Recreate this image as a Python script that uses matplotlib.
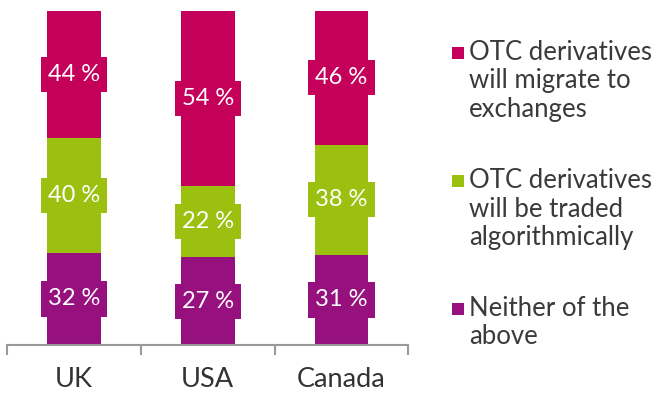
import matplotlib

matplotlib.use("Agg")
import matplotlib.pyplot as plt
import numpy as np

plt.rcParams["font.family"] = ["Lato", "DejaVu Sans"]

countries = ["UK", "USA", "Canada"]
series_names = [
    "Neither of the\nabove",
    "OTC derivatives\nwill be traded\nalgorithmically",
    "OTC derivatives\nwill migrate to\nexchanges",
]
neither = [32, 27, 31]
algorithmic = [40, 22, 38]
migrate = [44, 54, 46]
colors = ["#96117e", "#9bc010", "#c5005a"]

values = np.array([neither, algorithmic, migrate], dtype=float)
shares = values / values.sum(axis=0)  # each bar stretched to full height

fig = plt.figure(figsize=(6.56, 3.95), dpi=100)
ax = fig.add_axes([7.3 / 656, 50 / 395, 401 / 656, 334 / 395])

x = np.arange(len(countries))
bottom = np.zeros(len(countries))
for raw, share, color in zip(values, shares, colors):
    ax.bar(x, share, bottom=bottom, width=0.4, color=color, linewidth=0)
    for xi, b, s, v in zip(x, bottom, share, raw):
        ax.text(xi, b + s / 2, f"{v:.0f} %", ha="center", va="center",
                fontsize=17, color="white",
                bbox=dict(boxstyle="square,pad=0.3", fc=color, ec="none"))
    bottom += share

ax.set_xlim(-0.5, 2.5)
ax.set_ylim(0, 1)
for side in ["top", "right", "left"]:
    ax.spines[side].set_visible(False)
ax.spines["bottom"].set_color("#9a9a9a")
ax.spines["bottom"].set_linewidth(1.5)
ax.set_yticks([])
ax.set_xticks(x)
ax.set_xticklabels(countries, fontsize=19.5, color="#333333")
ax.tick_params(axis="x", which="major", length=0, pad=16)
ax.set_xticks([-0.5, 0.5, 1.5, 2.5], minor=True)
ax.tick_params(axis="x", which="minor", length=7, width=1.5, color="#9a9a9a")

# legend drawn by hand: square marker plus wrapped label
legend_rows = [(52.7, 2), (181, 1), (308.7, 0)]
for y_px, idx in legend_rows:
    yf = 1 - y_px / 395
    fig.patches.append(plt.Rectangle((452 / 656, yf - 6 / 395), 12 / 656, 12 / 395,
                                     transform=fig.transFigure, fc=colors[idx], ec="none"))
    fig.text(469 / 656, yf + 13 / 395, series_names[idx], ha="left", va="top",
             fontsize=18.5, color="#3a3a3a", linespacing=1.18)

fig.savefig("out.png", dpi=100)
